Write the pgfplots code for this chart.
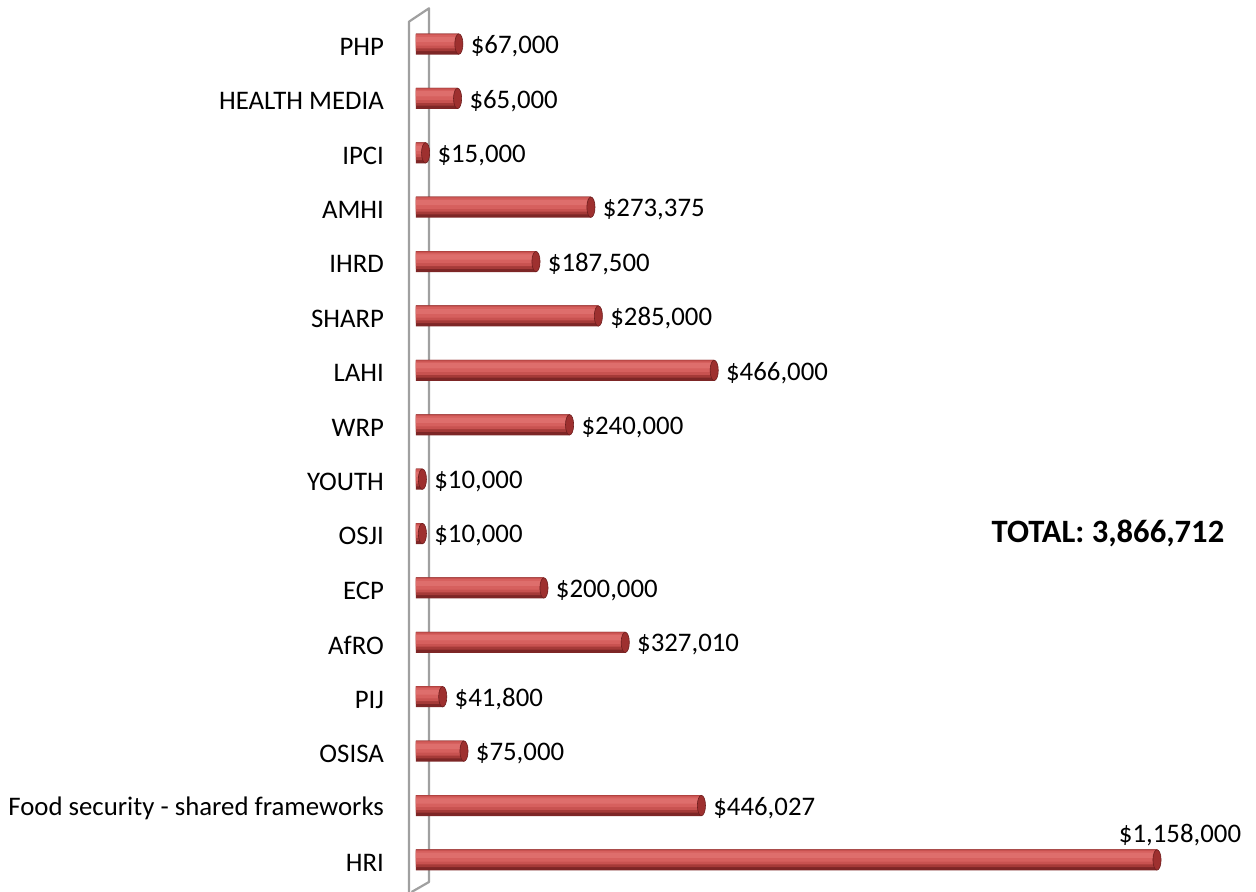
\documentclass[border=0pt]{standalone}
\usepackage{fontspec}
\setmainfont{Carlito}
\usepackage{pgfplots}
\usepackage{pgfplotstable}
\pgfplotsset{compat=1.18}
\definecolor{WallGray}{HTML}{A0A0A0}
\definecolor{CapRed}{RGB}{158,48,47}
\definecolor{CapEdge}{RGB}{110,30,30}
\definecolor{BarA}{RGB}{125,38,38}
\definecolor{BarB}{RGB}{165,58,56}
\definecolor{BarC}{RGB}{200,82,80}
\definecolor{BarD}{RGB}{214,96,94}
\definecolor{BarE}{RGB}{222,110,108}

\pgfplotstableread{
y value label
15 67000 \$67,000
14 65000 \$65,000
13 15000 \$15,000
12 273375 \$273,375
11 187500 \$187,500
10 285000 \$285,000
9 466000 \$466,000
8 240000 \$240,000
7 10000 \$10,000
6 10000 \$10,000
5 200000 \$200,000
4 327010 \$327,010
3 41800 \$41,800
2 75000 \$75,000
1 446027 \$446,027
0 1158000 {}
}\fundtable

\begin{document}
\begin{tikzpicture}
\begin{axis}[set layers=standard,
  scale only axis,width=370.5pt,height=446pt,
  xmin=0,xmax=1158000,ymin=-0.59,ymax=15.81,
  axis line style={draw=none},
  xtick=\empty,
  ytick={0,...,15},
  yticklabels={HRI,Food security - shared frameworks,OSISA,PIJ,AfRO,ECP,OSJI,YOUTH\ ,WRP,LAHI,SHARP,IHRD,AMHI,IPCI,HEALTH MEDIA,PHP},
  major tick length=0pt,
  yticklabel style={font=\fontsize{13.4}{16}\selectfont,xshift=-12.5pt,yshift=-1.4pt},
  clip=false]
\begin{pgfonlayer}{axis background}
\draw[WallGray,line width=1.1pt,line join=round]
  (rel axis cs:-0.00945,0) -- (rel axis cs:-0.00945,0.9757)
  -- (rel axis cs:0.01754,0.9907) -- (rel axis cs:0.01754,0.0112)
  -- (rel axis cs:-0.0060,0.0);
\end{pgfonlayer}
% cylinder bars, built from stacked bands
\addplot[xbar,bar width=10.5pt,bar shift=0pt,draw=none,fill=BarA]
  table[x=value,y=y]{\fundtable};
\addplot[xbar,bar width=8.85pt,bar shift=0.825pt,draw=none,fill=BarB]
  table[x=value,y=y]{\fundtable};
\addplot[xbar,bar width=7.2pt,bar shift=1.4pt,draw=none,fill=BarC]
  table[x=value,y=y]{\fundtable};
\addplot[xbar,bar width=5.2pt,bar shift=1.8pt,draw=none,fill=BarD]
  table[x=value,y=y]{\fundtable};
\addplot[xbar,bar width=2.6pt,bar shift=2.3pt,draw=none,fill=BarE]
  table[x=value,y=y]{\fundtable};
\addplot[only marks,mark=*,mark size=5.1pt,
  mark options={xscale=0.4,fill=CapRed,draw=CapEdge,line width=0.3pt},
  point meta=explicit symbolic,nodes near coords,
  nodes near coords style={font=\fontsize{13.4}{16}\selectfont,anchor=west,xshift=2.5pt,yshift=-1.2pt}]
  table[x=value,y=y,meta=label]{\fundtable};
\addplot[only marks,mark=none,point meta=explicit symbolic,nodes near coords,
  nodes near coords style={font=\fontsize{13.4}{16}\selectfont,anchor=base,xshift=11.5pt,yshift=8.5pt}]
  coordinates {(1158000,0) [{\$1,158,000}]};
\node[font=\fontsize{16.3}{19}\selectfont\bfseries] at (axis cs:1081400,6) {TOTAL: 3,866,712};
\coordinate (bbsw) at (rel axis cs:-0.5614,0);
\coordinate (bbne) at (rel axis cs:1.1336,1);
\end{axis}
\pgfresetboundingbox
\path[use as bounding box] (bbsw) rectangle (bbne);
\end{tikzpicture}
\end{document}
